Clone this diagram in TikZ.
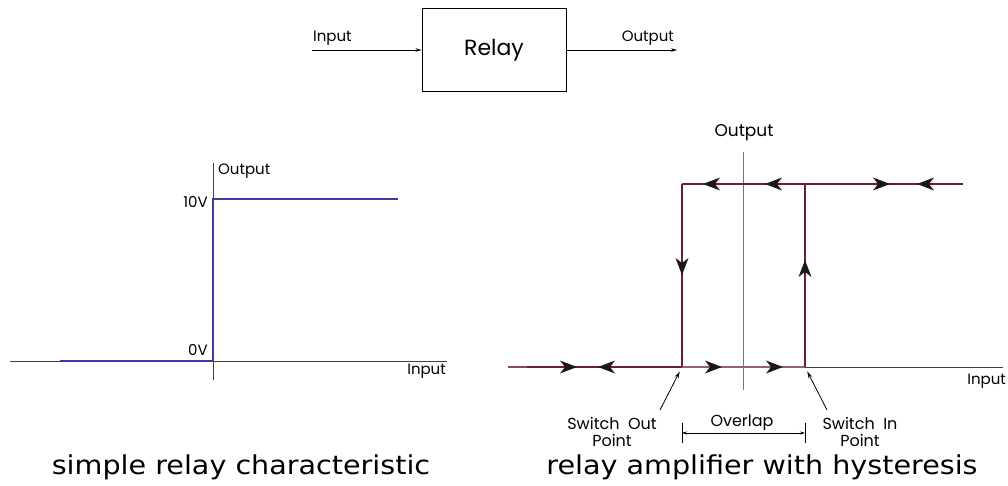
\documentclass[tikz,border=0pt]{standalone}
\usepackage{fontspec}
\setmainfont{DejaVu Sans}
\newfontfamily\labelfont{Poppins}
\newfontfamily\capfont{DejaVu Sans}[FakeStretch=1.1]
\usetikzlibrary{arrows.meta,positioning}
\definecolor{relayblue}{RGB}{60,60,165}
\definecolor{relaymaroon}{RGB}{105,30,50}

\begin{document}
\begin{tikzpicture}[
    x=1pt, y=-1pt,
    font=\labelfont\fontsize{15}{18}\selectfont,
    block/.style={draw, line width=1pt, minimum width=144pt, minimum height=83pt, inner sep=0pt, font=\labelfont\fontsize{22}{26}\selectfont},
    sig/.style={-{Stealth[length=6pt,width=3.5pt]}, line width=0.6pt},
    axis/.style={line width=0.6pt, black!75},
    tag/.style={inner sep=1pt},
    note/.style={inner sep=1pt, align=center, font=\labelfont\fontsize{16}{17}\selectfont},
    caption/.style={font=\capfont\fontsize{26}{30}\selectfont},
    loop/.style={relaymaroon, line width=1.7pt},
    flowtip/.pic={\fill[black!90] (0,0) -- (-17,6.5) -- (-12,0) -- (-17,-6.5) -- cycle;},
    pointer/.style={-{Stealth[length=7pt,width=4pt]}, line width=0.8pt},
    dim/.style={{Stealth[length=5pt,width=3pt]}-{Stealth[length=5pt,width=3pt]}, line width=0.6pt}
]
\useasboundingbox (0,0) rectangle (1008,486);

% block diagram
\node[block] (relay) at (494,50) {Relay};
\coordinate (in) at (312,50);
\coordinate (out) at (677,50);
\draw[sig] (in) -- (relay.west);
\draw[sig] (relay.east) -- (out);
\node[tag, anchor=south west] (inlbl) at (312,47) {Input};
\node[tag, anchor=south east] (outlbl) at (675,47) {Output};

% simple relay characteristic
\draw[axis] (10,361) -- (447,361);
\draw[axis] (213,163) -- (213,380);
\draw[relayblue, line width=1.4pt] (60,361) -- (213,361) -- (213,199) -- (398,199);
\node[tag, anchor=west] (out1) at (217,171) {Output};
\node[tag, anchor=east] (ten) at (209,202) {10V};
\node[tag, anchor=east] (zero) at (209,350) {0V};
\node[tag, anchor=east] (in1) at (447,371) {Input};
\node[caption] (cap1) at (241,467) {simple relay characteristic};

% relay with hysteresis
\coordinate (sl) at (508,367);
\coordinate (so) at (682,367);
\coordinate (si) at (805,367);
\coordinate (tl) at (682,184);
\coordinate (tr) at (805,184);
\coordinate (te) at (963,184);
\draw[axis] (508,367) -- (1003,367);
\draw[line width=0.7pt, black!55] (743,152) -- (743,390);
\node[tag, font=\labelfont\fontsize{17}{20}\selectfont] (out2) at (744,133) {Output};
\node[tag, anchor=east] (in2) at (1007,381) {Input};

\draw[loop, relaymaroon!80] (sl) -- (so);
\draw[loop, line width=2.4pt] (527,367) -- (so);
\draw[loop] (tl) -- (so);
\draw[loop, relaymaroon!70] (so) -- (si);
\draw[loop] (si) -- (tr);
\draw[loop] (tl) -- (te);

% direction marks
\pic at (577,367) {flowtip};
\pic[rotate=180] at (598,367) {flowtip};
\pic at (722,367) {flowtip};
\pic at (783,367) {flowtip};
\pic[rotate=-90] at (682,275) {flowtip};
\pic[rotate=90] at (805,260) {flowtip};
\pic[rotate=180] at (703,184) {flowtip};
\pic[rotate=180] at (765,184) {flowtip};
\pic at (890,184) {flowtip};
\pic[rotate=180] at (917,184) {flowtip};

\node[note] (outpt) at (612,432) {Switch\ \ Out\\Point};
\node[note] (inpt) at (860,432) {Switch\ \ In\\Point};
\coordinate (outtail) at (660,410);
\coordinate (intail) at (827,410);
\draw[pointer, shorten >=5pt] (outtail) -- (so);
\draw[pointer, shorten >=5pt] (intail) -- (si);

\node[note] (ovl) at (742,423) {Overlap};
\draw[dim] ([yshift=-66pt]so) -- ([yshift=-66pt]si);
\draw[line width=0.5pt] ([yshift=-56pt]so) -- ([yshift=-76pt]so);
\draw[line width=0.5pt] ([yshift=-56pt]si) -- ([yshift=-76pt]si);
\node[caption] (cap2) at (762,467) {relay amplifier with hysteresis};
\end{tikzpicture}
\end{document}
